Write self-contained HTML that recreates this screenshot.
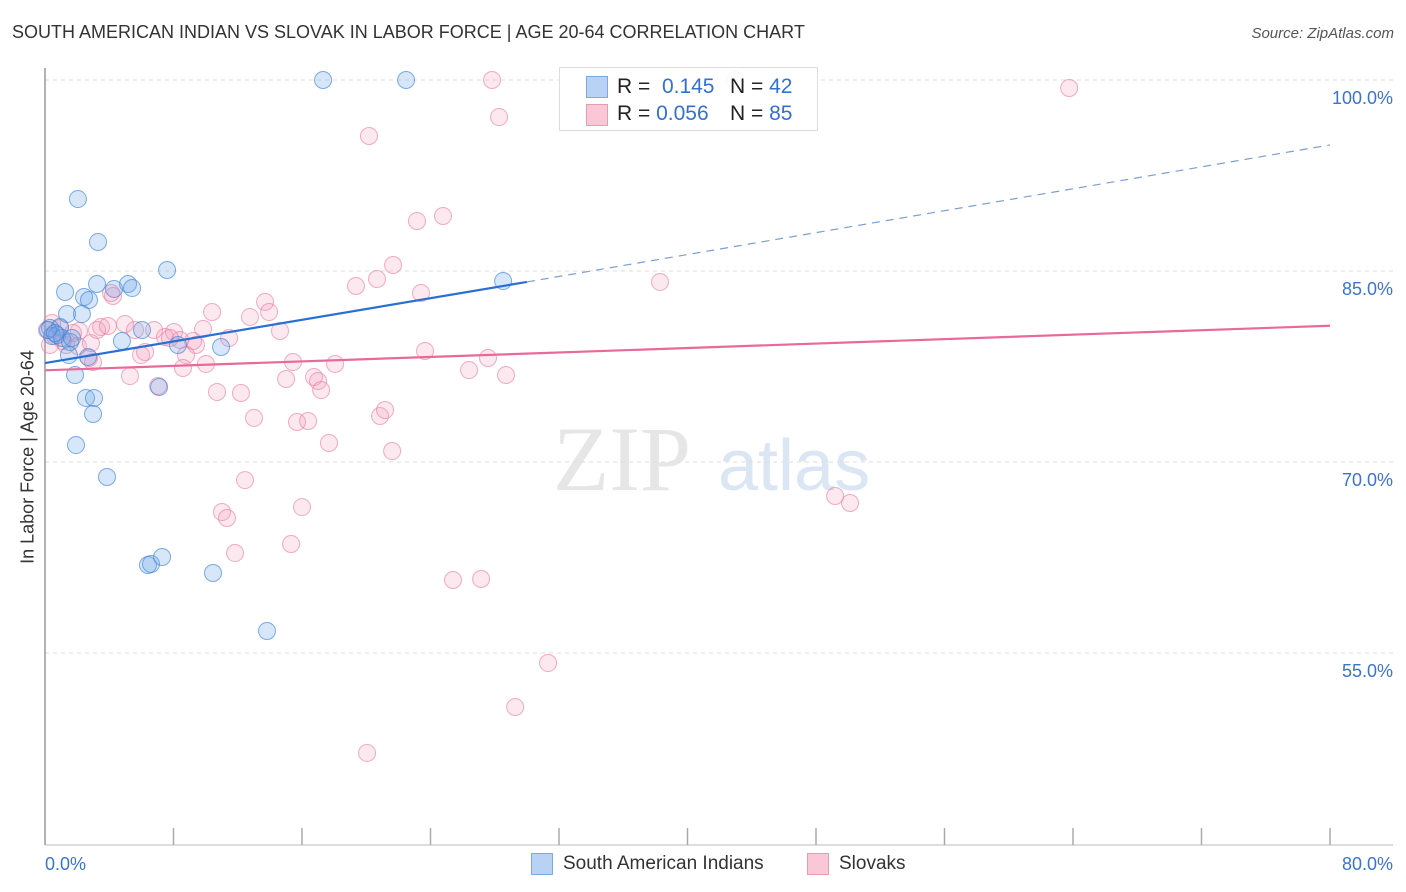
<!DOCTYPE html>
<html><head><meta charset="utf-8"><style>
body{margin:0;background:#fff;font-family:"Liberation Sans",sans-serif;}
#wrap{position:relative;width:1406px;height:892px;overflow:hidden;}
.t{position:absolute;white-space:nowrap;}
</style></head><body>
<div id="wrap">
<div class="t" style="left:12px;top:22px;font-size:18px;color:#333;">SOUTH AMERICAN INDIAN VS SLOVAK IN LABOR FORCE | AGE 20-64 CORRELATION CHART</div>
<div class="t" style="right:12px;top:25px;font-size:15px;color:#555;font-style:italic;">Source: ZipAtlas.com</div>
<div class="t" style="left:28px;top:457px;font-size:18px;color:#333;transform:translate(-50%,-50%) rotate(-90deg);">In Labor Force | Age 20-64</div>
<svg id="svg" width="1406" height="892" style="position:absolute;left:0;top:0"></svg>
<div style="position:absolute;left:559px;top:67px;width:257px;height:62px;border:1px solid #ddd;background:rgba(255,255,255,0.9);font-size:21px;">
 <div style="position:absolute;left:26px;top:8px;width:20px;height:20px;background:#b8d2f5;border:1px solid #7aaae6;"></div>
 <div class="t" style="left:57px;top:7px;color:#222;">R = &nbsp;<span style="color:#3370d0">0.145</span></div>
 <div class="t" style="left:170px;top:7px;color:#222;">N = <span style="color:#3370d0">42</span></div>
 <div style="position:absolute;left:26px;top:36px;width:20px;height:20px;background:#f9c7d6;border:1px solid #ec9ab4;"></div>
 <div class="t" style="left:57px;top:34px;color:#222;">R = <span style="color:#3370d0">0.056</span></div>
 <div class="t" style="left:170px;top:34px;color:#222;">N = <span style="color:#3370d0">85</span></div>
</div>
<div style="position:absolute;left:531px;top:853px;">
 <div style="position:absolute;left:0;top:0;width:20px;height:20px;background:#b8d2f5;border:1px solid #7aaae6;"></div>
 <div class="t" style="left:32px;top:0;font-size:19px;color:#333;">South American Indians</div>
</div>
<div style="position:absolute;left:807px;top:853px;">
 <div style="position:absolute;left:0;top:0;width:20px;height:20px;background:#f9c7d6;border:1px solid #ec9ab4;"></div>
 <div class="t" style="left:32px;top:0;font-size:19px;color:#333;">Slovaks</div>
</div>
</div>
<script>
const blueX=[17.31,22.48,2.05,3.30,7.60,3.24,5.17,5.42,1.25,2.43,2.74,4.30,2.30,1.37,0.31,0.93,0.44,0.75,1.06,1.56,6.04,4.79,8.28,10.96,1.49,2.68,1.87,2.55,3.05,2.99,1.93,3.86,7.10,28.52,6.41,6.60,7.29,10.46,13.82,0.19,0.62,1.68];
const blueY=[100,100,90.65,87.28,85.08,83.98,83.98,83.66,83.35,82.96,82.72,83.59,81.62,81.62,80.52,80.60,79.89,79.97,79.74,79.42,80.37,79.50,79.19,79.03,78.40,78.25,76.83,75.03,75.03,73.77,71.33,68.82,75.89,84.21,61.91,61.99,62.54,61.28,56.73,80.37,80.13,79.74];
const pinkX=[27.83,42.96,63.76,28.27,20.17,24.78,23.16,21.67,20.67,19.36,23.41,38.29,13.70,13.95,10.40,12.76,14.63,11.46,9.84,6.79,8.03,7.47,8.41,9.22,9.40,4.23,4.11,4.98,3.49,2.12,1.74,0.93,0.44,0.62,1.12,2.05,1.31,2.74,2.99,5.98,6.23,8.78,8.59,10.02,5.29,7.04,10.71,12.20,15.01,15.44,16.75,17.00,17.19,18.06,23.66,26.40,27.58,28.70,13.01,15.69,16.38,20.86,21.17,17.68,21.61,12.45,11.02,11.33,11.83,16.00,15.32,25.40,27.15,49.19,50.12,31.32,29.27,20.05,3.24,3.92,2.86,5.60,7.78,0.31,0.12];
const pinkY=[100,100,99.37,97.09,95.60,89.32,88.93,85.47,84.37,83.82,83.27,84.14,82.57,81.78,81.78,81.39,80.29,79.74,80.44,80.37,80.21,79.82,79.58,79.50,79.19,83.04,83.27,80.84,80.60,80.29,80.13,80.52,80.92,79.89,79.50,79.11,79.19,78.17,77.85,78.40,78.64,78.40,77.38,77.70,76.75,75.97,75.50,75.42,76.52,77.85,76.67,76.36,75.65,77.70,78.72,77.22,78.17,76.83,73.46,73.14,73.22,73.61,74.08,71.49,70.86,68.58,66.07,65.60,62.85,66.46,63.56,60.73,60.81,67.33,66.78,54.21,50.76,47.15,80.37,80.68,79.34,80.37,79.74,79.19,80.37];
const yTicks=[100,85,70,55];
const yTickLabels=["100.0%","85.0%","70.0%","55.0%"];
const xTicks=[0,8,16,24,32,40,48,56,64,72,80];
const blueTrend=[[0,77.77],[30.0,84.14],[80,94.9]];
const pinkTrend=[[0,77.2],[80,80.7]];

const NS="http://www.w3.org/2000/svg";
const svg=document.getElementById('svg');
const X=v=>45+v*16.0625;
const Y=v=>80+(100-v)*12.733;
function mk(tag,attrs){const e=document.createElementNS(NS,tag);for(const k in attrs)e.setAttribute(k,attrs[k]);svg.appendChild(e);return e;}
let wm=mk('text',{x:553,y:490,'font-size':92,'font-family':'Liberation Serif,serif',fill:'#e6e6e6'});wm.textContent='ZIP';


let wm2=mk('text',{x:718,y:490,'font-size':72,'font-family':'Liberation Sans,sans-serif',fill:'#dbe6f5'});wm2.textContent='atlas';


yTicks.forEach((v,i)=>{
  const g=mk('line',{x1:45,x2:1393,y1:Y(v),y2:Y(v),stroke:'#ddd','stroke-dasharray':'4,4'});
  
  
  const t=mk('text',{x:1393,y:Y(v)+24,'text-anchor':'end','font-size':18,fill:'#3a74d0','font-family':'Liberation Sans,sans-serif'});
  t.textContent=yTickLabels[i];
  
  
});
let ax=mk('line',{x1:45,x2:45,y1:68,y2:845,stroke:'#999','stroke-width':1.5});


let bx=mk('line',{x1:45,x2:1393,y1:845,y2:845,stroke:'#bbb','stroke-width':1});


xTicks.forEach(v=>{
  const t=mk('line',{x1:X(v),x2:X(v),y1:828,y2:845,stroke:'#aaa','stroke-width':1.5});
  
  
});
let xl=mk('text',{x:45,y:870,'font-size':18,fill:'#3a74d0','font-family':'Liberation Sans,sans-serif'});xl.textContent='0.0%';


let xr=mk('text',{x:1393,y:870,'text-anchor':'end','font-size':18,fill:'#3a74d0','font-family':'Liberation Sans,sans-serif'});xr.textContent='80.0%';


function dots(xs,ys,fill,stroke,name){
  xs.forEach((x,i)=>{
    const c=mk('circle',{cx:X(x),cy:Y(ys[i]),r:8.5,fill:fill,stroke:stroke,'stroke-width':1});
    
    
  });
}
dots(pinkX,pinkY,'rgba(243,150,180,0.22)','rgba(232,120,158,0.6)','slovak-point');
dots(blueX,blueY,'rgba(110,165,235,0.28)','rgba(60,130,215,0.65)','south-american-indian-point');
let bl=mk('line',{x1:X(blueTrend[0][0]),y1:Y(blueTrend[0][1]),x2:X(blueTrend[1][0]),y2:Y(blueTrend[1][1]),stroke:'#2a6fd4','stroke-width':2.2});


let bd=mk('line',{x1:X(blueTrend[1][0]),y1:Y(blueTrend[1][1]),x2:X(blueTrend[2][0]),y2:Y(blueTrend[2][1]),stroke:'#7a9fd0','stroke-width':1.2,'stroke-dasharray':'8,6'});


let pl=mk('line',{x1:X(pinkTrend[0][0]),y1:Y(pinkTrend[0][1]),x2:X(pinkTrend[1][0]),y2:Y(pinkTrend[1][1]),stroke:'#e8699a','stroke-width':2.2});


</script>
</body></html>
